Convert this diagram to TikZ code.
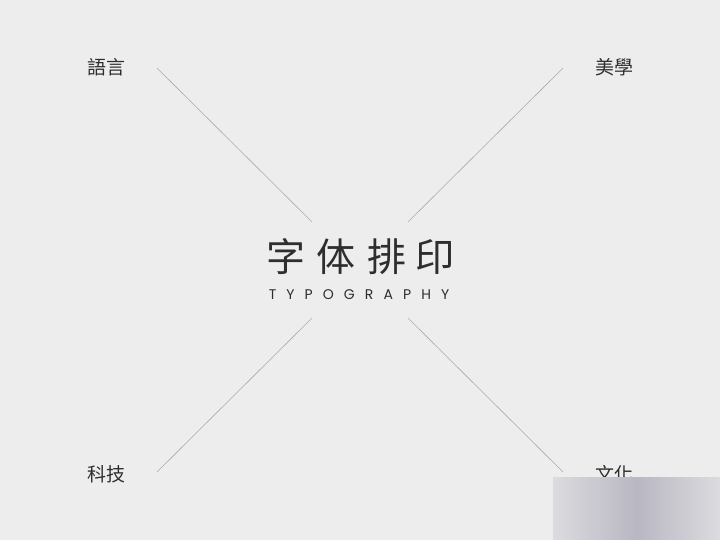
\documentclass[tikz,border=0pt]{standalone}
\usepackage{fontspec}
\setmainfont{Poppins}
\newfontfamily\cjk{Noto Sans CJK TC}
\newfontfamily\latinsp[LetterSpace=72]{Poppins}
\definecolor{bg}{HTML}{EEEDED}
\definecolor{ln}{HTML}{ABABAB}
\definecolor{tx}{HTML}{2E2E2E}
\definecolor{blurmid}{HTML}{B9B7C2}
\definecolor{bluredge}{HTML}{DCDBDF}
\begin{document}
\begin{tikzpicture}[x=1pt,y=-1pt,
  corner/.style={font=\cjk\fontsize{19}{19}\selectfont, text=tx, inner sep=0pt},
  big/.style={font=\cjk\fontsize{39}{39}\selectfont, text=tx, inner sep=0pt},
  conn/.style={draw=ln, line width=0.6pt}]
\fill[bg] (0,0) rectangle (720,540);
\useasboundingbox (0,0) rectangle (720,540);
\node[corner] (yu) at (106,67) {語言};
\node[corner] (mei) at (614,67) {美學};
\node[corner] (ke) at (106,474) {科技};
\node[corner] (wen) at (614,474) {文化};
\node[big] (c1) at (286,257) {字};
\node[big] (c2) at (336,257) {体};
\node[big] (c3) at (387,257) {排};
\node[big] (c4) at (435,257) {印};
\node[inner sep=0pt, text=tx, font=\latinsp\fontsize{14}{14}\selectfont] (en) at (359,295) {TYPOGRAPHY};
\coordinate (a1) at (157,68); \coordinate (a2) at (312,222);
\coordinate (b1) at (563,68); \coordinate (b2) at (408,222);
\coordinate (d1) at (157,472); \coordinate (d2) at (312,318);
\coordinate (e1) at (563,472); \coordinate (e2) at (408,318);
\draw[conn] (a1) -- (a2);
\draw[conn] (b1) -- (b2);
\draw[conn] (d1) -- (d2);
\draw[conn] (e1) -- (e2);
\shade[left color=bluredge, right color=bluredge, middle color=blurmid] (553,477) rectangle (720,540);
\end{tikzpicture}
\end{document}
